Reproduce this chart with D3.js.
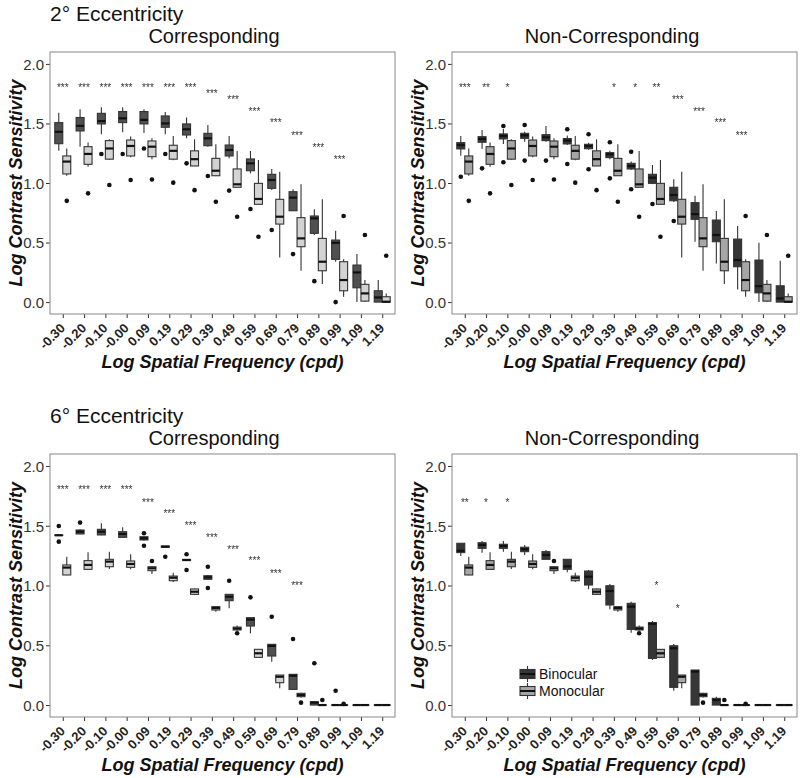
<!DOCTYPE html>
<html lang="en">
<head>
<meta charset="utf-8">
<title>Contrast sensitivity</title>
<script src="https://d3js.org/d3.v7.min.js"></script>
<style>
  body { margin: 0; background: #fff; }
  text { font-family: "Liberation Sans", Arial, sans-serif; }
</style>
</head>
<body>
<div id="chart"></div>
<script>
// spatial frequency categories and y ticks
var freqs = ["-0.30","-0.20","-0.10","-0.00","0.09","0.19","0.29","0.39","0.49","0.59","0.69","0.79","0.89","0.99","1.09","1.19"];
var yTicks = [0, 0.5, 1, 1.5, 2];

// each box: [lower whisker, q1, median, q3, upper whisker]
// monocular, 2 deg (same in both 2 deg panels)
var mono2 = [[1.06,1.076,1.18,1.227,1.29],[1.137,1.157,1.244,1.305,1.34],[1.193,1.2,1.29,1.356,1.367],[1.216,1.227,1.311,1.361,1.39],
  [1.2,1.221,1.305,1.353,1.375],[1.19,1.2,1.27,1.317,1.395],[1.143,1.143,1.2,1.27,1.367],[1.061,1.061,1.103,1.207,1.325],
  [0.964,0.964,0.989,1.118,1.269],[0.821,0.821,0.866,0.997,1.193],[0.375,0.655,0.717,0.863,1.095],[0.263,0.465,0.535,0.709,0.989],
  [0.151,0.263,0.339,0.535,0.863],[0.045,0.095,0.185,0.339,0.359],[0,0.008,0.073,0.149,0.185],[0,0,0.003,0.045,0.073]];
var mono2Out = [[0.85],[0.913],[0.983],[1.025],[1.03],[1.003],[0.94],[0.843],[0.717],[0.549],[],[],[],[0.723],[0.563],[0.389]];

// binocular, 2 deg, corresponding
var corr2Bin = [[1.27,1.33,1.43,1.507,1.59],[1.305,1.437,1.48,1.55,1.62],[1.41,1.496,1.52,1.585,1.636],[1.426,1.507,1.543,1.6,1.636],
  [1.42,1.496,1.53,1.6,1.62],[1.41,1.468,1.5,1.563,1.597],[1.375,1.403,1.451,1.496,1.549],[1.305,1.313,1.375,1.417,1.487],
  [1.207,1.227,1.277,1.319,1.395],[1.081,1.103,1.165,1.202,1.269],[0.941,0.955,1.025,1.073,1.118],[0.767,0.767,0.877,0.927,0.947],
  [0.563,0.577,0.703,0.723,0.779],[0.339,0.359,0.498,0.521,0.599],[0,0.12,0.249,0.311,0.403],[0,0,0.039,0.095,0.185]];
var corr2BinOut = [[],[],[1.244],[1.244],[1.29],[1.244],[1.165],[1.059],[0.936],[0.782],[0.605],[0.403],[0.176],[0],[],[]];

// binocular, 2 deg, non-corresponding
var nonc2Bin = [[1.229,1.286,1.319,1.339,1.395],[1.286,1.342,1.37,1.389,1.445],[1.328,1.37,1.395,1.412,1.454],[1.347,1.375,1.4,1.417,1.43],
  [1.347,1.356,1.384,1.406,1.479],[1.32,1.328,1.356,1.373,1.398],[1.28,1.288,1.311,1.325,1.339],[1.2,1.213,1.241,1.255,1.27],
  [1.11,1.118,1.143,1.165,1.18],[0.99,0.997,1.045,1.073,1.151],[0.84,0.851,0.899,0.964,1.031],[0.507,0.695,0.739,0.835,0.893],
  [0.325,0.507,0.563,0.689,0.765],[0.106,0.297,0.353,0.529,0.639],[0,0.078,0.134,0.353,0.498],[0,0,0.031,0.137,0.347]];
var nonc2BinOut = [[1.053],[1.123],[1.479,1.174],[1.487,1.188],[1.188],[1.451,1.16],[1.409,1.115],[1.342,1.039],[1.263,0.947],[0.824],[0.681],[],[],[],[],[]];

// monocular, 6 deg (same in both 6 deg panels)
var mono6 = [[1.085,1.088,1.15,1.172,1.241],[1.13,1.135,1.172,1.208,1.278],[1.138,1.157,1.2,1.219,1.283],[1.135,1.152,1.18,1.205,1.261],
  [1.096,1.124,1.144,1.157,1.16],[1.03,1.04,1.065,1.079,1.107],[0.92,0.926,0.948,0.971,0.975],[0.78,0.795,0.812,0.823,0.823],
  [0.622,0.628,0.64,0.652,0.665],[0.399,0.399,0.433,0.466,0.466],[0.14,0.187,0.237,0.251,0.251],[0.064,0.07,0.084,0.098,0.103],
  [0,0,0,0,0],[0,0,0,0,0],[0,0,0,0,0],[0,0,0,0,0]];
var mono6Out = [[],[],[],[],[1.205],[],[],[],[0.6],[],[],[0.02],[0.042],[0.01],[],[]];

// binocular, 6 deg, corresponding
var corr6Bin = [[1.42,1.42,1.42,1.422,1.422],[1.43,1.431,1.45,1.464,1.47],[1.42,1.423,1.45,1.47,1.52],[1.4,1.403,1.431,1.45,1.487],
  [1.375,1.381,1.395,1.408,1.41],[1.32,1.32,1.325,1.33,1.33],[1.21,1.21,1.213,1.218,1.218],[1.046,1.052,1.068,1.082,1.088],
  [0.809,0.873,0.906,0.926,0.926],[0.6,0.661,0.715,0.731,0.731],[0.362,0.41,0.495,0.508,0.508],[0.131,0.131,0.245,0.257,0.257],
  [0,0,0.02,0.028,0.028],[0,0,0,0,0],[0,0,0,0,0],[0,0,0,0,0]];
var corr6BinOut = [[1.498,1.367],[1.526],[],[],[1.437,1.333],[1.241],[1.261,1.13],[1.157,0.979],[1.04],[0.901],[0.739],[0.552],[0.349],[0.12],[],[]];

// binocular, 6 deg, non-corresponding
var nonc6Bin = [[1.247,1.275,1.29,1.353,1.353],[1.275,1.311,1.34,1.358,1.372],[1.283,1.311,1.331,1.345,1.372],[1.255,1.283,1.303,1.32,1.339],
  [1.219,1.219,1.255,1.283,1.297],[1.11,1.135,1.16,1.219,1.219],[0.968,1.004,1.074,1.121,1.13],[0.801,0.837,0.954,0.998,1.013],
  [0.605,0.633,0.823,0.851,0.865],[0.377,0.39,0.68,0.689,0.703],[0.12,0.148,0.475,0.496,0.51],[0,0,0.28,0.293,0.293],
  [0,0,0.042,0.056,0.07],[0,0,0,0,0],[0,0,0,0,0],[0,0,0,0,0]];
var nonc6BinOut = [[],[],[],[],[],[],[],[],[],[],[],[],[],[],[],[]];

// significance labels and their heights
var corr2Stars = ["***","***","***","***","***","***","***","***","***","***","***","***","***","***","",""];
var corr2StarY = [1.82,1.82,1.82,1.82,1.82,1.82,1.82,1.767,1.717,1.619,1.521,1.417,1.319,1.216,0,0];
var nonc2Stars = ["***","**","*","","","","","*","*","**","***","***","***","***","",""];
var nonc2StarY = [1.82,1.82,1.82,0,0,0,0,1.82,1.82,1.82,1.717,1.619,1.521,1.417,0,0];
var corr6Stars = ["***","***","***","***","***","***","***","***","***","***","***","***","","","",""];
var corr6StarY = [1.818,1.818,1.818,1.818,1.715,1.618,1.52,1.417,1.32,1.222,1.121,1.018,0,0,0,0];
var nonc6Stars = ["**","*","*","","","","","","","*","*","","","","",""];
var nonc6StarY = [1.715,1.715,1.715,0,0,0,0,0,0,1.018,0.823,0,0,0,0,0];

var svg = d3.select("#chart").append("svg")
    .attr("width", 800).attr("height", 778);

var panels = [
  {x0: 50, x1: 395, y0: 52, y1: 314, bin: corr2Bin, binOut: corr2BinOut, mon: mono2, monOut: mono2Out,
   stars: corr2Stars, starY: corr2StarY, binFill: "#505050", monFill: "#d3d3d3", title: "Corresponding", titleX: 214},
  {x0: 452, x1: 797, y0: 52, y1: 314, bin: nonc2Bin, binOut: nonc2BinOut, mon: mono2, monOut: mono2Out,
   stars: nonc2Stars, starY: nonc2StarY, binFill: "#363636", monFill: "#a6a6a6", title: "Non-Corresponding", titleX: 612},
  {x0: 50, x1: 395, y0: 454, y1: 717, bin: corr6Bin, binOut: corr6BinOut, mon: mono6, monOut: mono6Out,
   stars: corr6Stars, starY: corr6StarY, binFill: "#505050", monFill: "#d3d3d3", title: "Corresponding", titleX: 214},
  {x0: 452, x1: 797, y0: 454, y1: 717, bin: nonc6Bin, binOut: nonc6BinOut, mon: mono6, monOut: mono6Out,
   stars: nonc6Stars, starY: nonc6StarY, binFill: "#363636", monFill: "#a6a6a6", title: "Non-Corresponding", titleX: 612, legend: true}
];

function drawBoxes(g, x, y, data, outs, fill, offset, bw) {
  data.forEach(function(d, i) {
    var cx = x(freqs[i]) + offset + bw / 2;
    // outliers
    outs[i].forEach(function(o) {
      g.append("circle").attr("cx", cx).attr("cy", y(o)).attr("r", 2.3).attr("fill", "#111");
    });
    // box
    g.append("rect")
      .attr("x", cx - bw / 2).attr("y", y(d[3]))
      .attr("width", bw).attr("height", Math.max(0.1, y(d[1]) - y(d[3])))
      .attr("fill", fill).attr("stroke", "#333").attr("stroke-width", 1.1);
    g.append("line")
      .attr("x1", cx - bw / 2).attr("x2", cx + bw / 2)
      .attr("y1", y(d[2])).attr("y2", y(d[2]))
      .attr("stroke", "#111").attr("stroke-width", 2.2);
    // whiskers
    g.append("line").attr("x1", cx).attr("x2", cx).attr("y1", y(d[3])).attr("y2", y(d[4]))
      .attr("stroke", "#333").attr("stroke-width", 1.1);
    g.append("line").attr("x1", cx).attr("x2", cx).attr("y1", y(d[1])).attr("y2", y(d[0]))
      .attr("stroke", "#333").attr("stroke-width", 1.1);
  });
}

panels.forEach(function(p) {
  var x = d3.scalePoint().domain(freqs).range([p.x0, p.x1]).padding(0.6);
  var y = d3.scaleLinear().domain([-0.1, 2.1]).range([p.y1, p.y0]);
  var bw = x.step() * 0.375;
  var g = svg.append("g");

  // y axis
  var ya = g.append("g").attr("transform", "translate(" + p.x0 + ",0)")
    .call(d3.axisLeft(y).tickValues(yTicks).tickFormat(d3.format(".1f")).tickSize(4).tickPadding(2));
  ya.select(".domain").remove();
  ya.selectAll("line").attr("stroke", "#333");
  ya.selectAll("text").style("font-size", "15px").attr("fill", "#333").attr("dy", "0.36em");

  // x axis
  var xa = g.append("g").attr("transform", "translate(0," + p.y1 + ")")
    .call(d3.axisBottom(x).tickSize(4));
  xa.select(".domain").remove();
  xa.selectAll("line").attr("stroke", "#333");
  xa.selectAll("text")
    .attr("x", 0).attr("y", 0).attr("dy", 0)
    .attr("transform", "translate(2.5,15) rotate(-45)")
    .attr("text-anchor", "end")
    .style("font-size", "13px").style("font-weight", "bold").attr("fill", "#222");

  // frame
  g.append("rect").attr("x", p.x0).attr("y", p.y0)
    .attr("width", p.x1 - p.x0).attr("height", p.y1 - p.y0)
    .attr("fill", "none").attr("stroke", "#888").attr("stroke-width", 1);

  drawBoxes(g, x, y, p.bin, p.binOut, p.binFill, -bw, bw);
  drawBoxes(g, x, y, p.mon, p.monOut, p.monFill, 0, bw);

  // significance stars (grayscale filter keeps the small glyphs grey, not colour-fringed)
  var sg = g.append("g").style("filter", "grayscale(1)");
  p.stars.forEach(function(s, i) {
    if (!s) return;
    sg.append("text").attr("x", x(freqs[i])).attr("y", y(p.starY[i]) + 5.5)
      .attr("text-anchor", "middle").style("font-size", "10px").attr("fill", "#333").text(s);
  });

  // titles
  g.append("text").attr("x", p.titleX).attr("y", p.y0 - 9)
    .attr("text-anchor", "middle").style("font-size", "20px").attr("fill", "#111").text(p.title);

  var midY = (p.y0 + p.y1) / 2;
  g.append("text").attr("transform", "translate(" + (p.x0 - 28) + "," + midY + ") rotate(-90)")
    .attr("text-anchor", "middle").style("font-size", "18px").style("font-weight", "bold")
    .style("font-style", "italic").attr("fill", "#111").text("Log Contrast Sensitivity");

  g.append("text").attr("x", (p.x0 + p.x1) / 2).attr("y", p.y1 + 54)
    .attr("text-anchor", "middle").style("font-size", "18px").style("font-weight", "bold")
    .style("font-style", "italic").attr("fill", "#111").text("Log Spatial Frequency (cpd)");

  if (p.legend) {
    var keys = [["Binocular", p.binFill], ["Monocular", p.monFill]];
    keys.forEach(function(k, j) {
      var ky = 674 + j * 17;
      var lg = g.append("g");
      lg.append("line").attr("x1", 527.5).attr("x2", 527.5).attr("y1", ky - 8).attr("y2", ky + 8)
        .attr("stroke", "#333").attr("stroke-width", 1.1);
      lg.append("rect").attr("x", 520).attr("y", ky - 4.5).attr("width", 15).attr("height", 9)
        .attr("fill", k[1]).attr("stroke", "#333").attr("stroke-width", 1.1);
      lg.append("line").attr("x1", 520).attr("x2", 535).attr("y1", ky).attr("y2", ky)
        .attr("stroke", "#111").attr("stroke-width", 2);
      lg.append("text").attr("x", 539).attr("y", ky + 5).style("font-size", "14px")
        .attr("fill", "#111").text(k[0]);
    });
  }
});

// eccentricity headings
svg.append("text").attr("x", 50).attr("y", 21).style("font-size", "21px").attr("fill", "#111").text("2° Eccentricity");
svg.append("text").attr("x", 50).attr("y", 423).style("font-size", "21px").attr("fill", "#111").text("6° Eccentricity");
</script>
</body>
</html>
